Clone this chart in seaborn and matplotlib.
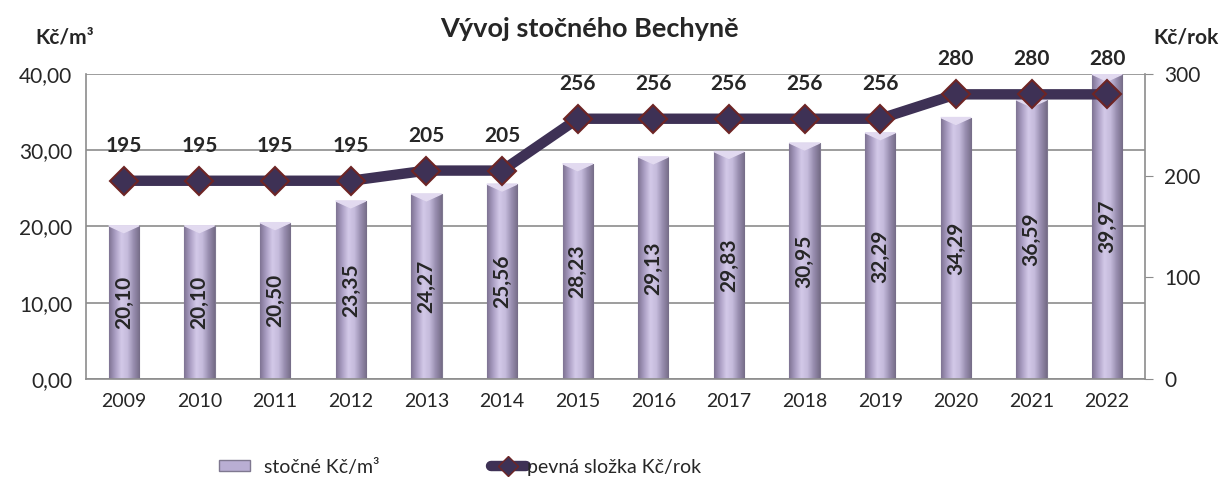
import numpy as np
import pandas as pd
import seaborn as sns
import matplotlib.pyplot as plt
from matplotlib.colors import LinearSegmentedColormap
from matplotlib.lines import Line2D
from matplotlib.patches import Patch
from matplotlib.ticker import FuncFormatter

# Data
years = ["2009", "2010", "2011", "2012", "2013", "2014", "2015",
         "2016", "2017", "2018", "2019", "2020", "2021", "2022"]
stocne = [20.10, 20.10, 20.50, 23.35, 24.27, 25.56, 28.23,
          29.13, 29.83, 30.95, 32.29, 34.29, 36.59, 39.97]
pevna = [195, 195, 195, 195, 205, 205, 256,
         256, 256, 256, 256, 280, 280, 280]

sns.set_style("white")
plt.rcParams['font.family'] = ['Lato', 'DejaVu Sans']

df = pd.DataFrame({"rok": years, "stocne": stocne, "pevna": pevna})

fig = plt.figure(figsize=(12.2, 4.79), dpi=100)
ax = fig.add_axes([0.0705, 0.2088, 0.868, 0.6367])

bar_col = "#b9aed3"
sns.barplot(data=df, x="rok", y="stocne", color=bar_col, width=0.4,
            ax=ax, zorder=2, edgecolor="#7f7890", linewidth=0.8)

# cylinder-like shading on bars
cmap = LinearSegmentedColormap.from_list(
    "cyl", ["#7f7494", "#ab9fc4", "#d3c9e8", "#c5bbdc", "#998eb0", "#766d88"])
grad = np.linspace(0, 1, 64).reshape(1, -1)
for p in ax.patches:
    x0, y0 = p.get_x(), p.get_y()
    w, h = p.get_width(), p.get_height()
    im = ax.imshow(grad, cmap=cmap, aspect="auto",
                   extent=[x0, x0 + w, y0, y0 + h], zorder=2.1)
    im.set_clip_path(p)
    # light bevel at the top
    ax.fill([x0, x0 + w, x0 + w / 2], [y0 + h, y0 + h, y0 + h - 0.9],
            color="#e2daf0", zorder=2.2)

ax.set_xlim(-0.5, len(years) - 0.5)
ax.set_ylim(0, 40)
ax.set_yticks([0, 10, 20, 30, 40])
ax.yaxis.set_major_formatter(FuncFormatter(lambda v, _: f"{v:.2f}".replace(".", ",")))
ax.grid(axis="y", color="#8c8c8c", linewidth=1.2, zorder=0)
ax.set_axisbelow(True)
ax.set_xlabel("")
ax.set_ylabel("")
for s in ["top", "right"]:
    ax.spines[s].set_visible(False)
for s in ["left", "bottom"]:
    ax.spines[s].set_color("#8c8c8c")
    ax.spines[s].set_linewidth(1.2)
ax.tick_params(axis="x", labelsize=14, length=0, pad=10)
ax.tick_params(axis="y", labelsize=15, length=0, pad=10)

for i, v in enumerate(stocne):
    ax.text(i, v / 2, f"{v:.2f}".replace(".", ","), rotation=90,
            ha="center", va="center", fontsize=15, fontweight="bold",
            zorder=4)

# line on secondary axis
ax2 = ax.twinx()
xs = np.arange(len(years))
sns.lineplot(x=xs, y=pevna, ax=ax2, color="#3e3155", linewidth=7.5,
             marker="D", markersize=14, markerfacecolor="#3e3155",
             markeredgecolor="#6e2525", markeredgewidth=1.5, zorder=5)
ax2.set_ylim(0, 300)
ax2.set_yticks([0, 100, 200, 300])
ax2.tick_params(axis="y", labelsize=15, length=6, color="#8c8c8c", pad=8)
for s in ["top", "left", "bottom"]:
    ax2.spines[s].set_visible(False)
ax2.spines["right"].set_color("#8c8c8c")
ax2.spines["right"].set_linewidth(1.2)
ax2.set_ylabel("")
for i, v in enumerate(pevna):
    ax2.annotate(str(v), (i, v), xytext=(0, 18), textcoords="offset points",
                 ha="center", va="bottom", fontsize=15, fontweight="bold",
                 clip_on=False)

fig.text(0.483, 0.94, "Vývoj stočného Bechyně", ha="center", va="center",
         fontsize=19.5, fontweight="bold")
fig.text(0.053, 0.922, "Kč/m³", ha="center", va="center", fontsize=15,
         fontweight="bold")
fig.text(0.972, 0.922, "Kč/rok", ha="center", va="center", fontsize=15,
         fontweight="bold")

h_bar = Patch(facecolor=bar_col, edgecolor="#7f7890")
h_line = Line2D([], [], color="#3e3155", linewidth=7.5, marker="D",
                markersize=10, markerfacecolor="#3e3155",
                markeredgecolor="#6e2525")
leg1 = fig.legend([h_bar], ["stočné Kč/m³"], loc="center left",
                  bbox_to_anchor=(0.165, 0.025), frameon=False, fontsize=14,
                  handlelength=1.6, handleheight=0.5, handletextpad=0.7)
fig.legend([h_line], ["pevná složka Kč/rok"], loc="center left",
           bbox_to_anchor=(0.388, 0.025), frameon=False, fontsize=14,
           handlelength=1.8, handletextpad=0.05)

fig.savefig("out.png", dpi=100)
